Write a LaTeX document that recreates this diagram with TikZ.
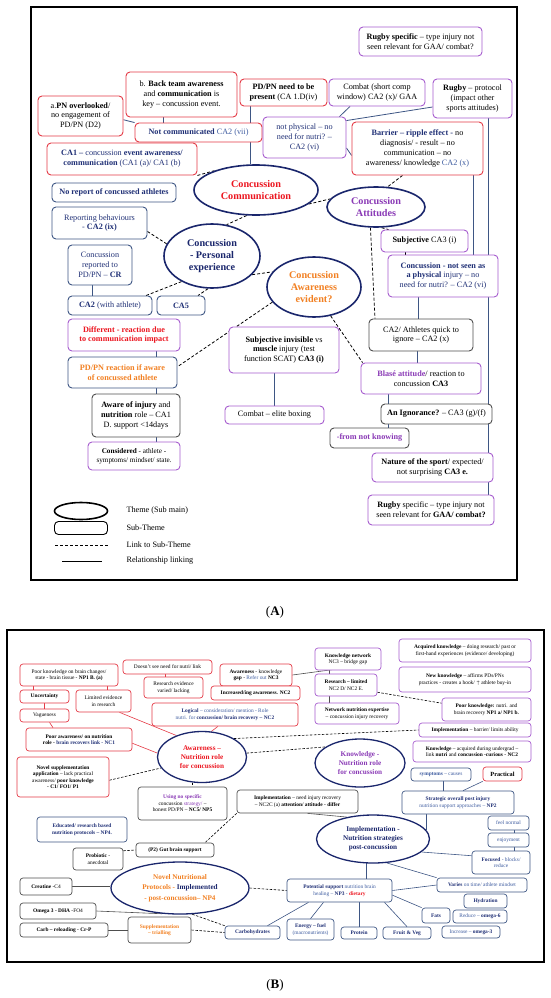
\documentclass[tikz,border=0pt]{standalone}
\usepackage{fontspec}
\setmainfont{Liberation Serif}
\usetikzlibrary{shapes.geometric,backgrounds}

\definecolor{redb}{RGB}{228,58,70}
\definecolor{redt}{RGB}{236,22,32}
\definecolor{purb}{RGB}{166,92,206}
\definecolor{purt}{RGB}{138,58,182}
\definecolor{navy}{RGB}{26,38,108}
\definecolor{bluet}{RGB}{32,48,118}
\definecolor{bluel}{RGB}{62,92,160}
\definecolor{blueb}{RGB}{62,86,132}
\definecolor{oranget}{RGB}{242,128,34}
\definecolor{grayb}{RGB}{78,78,78}

\newcommand{\fntA}{\fontsize{8.2}{9.7}\selectfont}
\newcommand{\fntB}{\fontsize{5.4}{6.5}\selectfont}
\newcommand{\fntC}{\fontsize{7.2}{8.6}\selectfont}
\newcommand{\fntD}{\fontsize{6.3}{7}\selectfont}
\newcommand{\fntE}{\fontsize{10.2}{12.2}\selectfont\bfseries}
\newcommand{\fntF}{\fontsize{7.2}{9}\selectfont\bfseries}

\begin{document}
\begin{tikzpicture}[x=1pt,y=1pt,yscale=-1,
    box/.style={draw, rounded corners=4pt, fill=white, align=center, inner sep=1pt, line width=0.9pt, font=\fntA},
    bx/.style 2 args={minimum width=#1, minimum height=#2},
    redbox/.style={box, draw=redb},
    purbox/.style={box, draw=purb},
    bluebox/.style={box, draw=blueb},
    greybox/.style={box, draw=grayb},
    sbox/.style={box, font=\fntB, line width=0.7pt, rounded corners=3pt},
    sred/.style={sbox, draw=redb},
    spur/.style={sbox, draw=purb},
    sblue/.style={sbox, draw=blueb},
    sgrey/.style={sbox, draw=grayb},
    theme/.style={ellipse, draw=navy, line width=1.6pt, fill=white, align=center, inner sep=0pt, font=\fntE},
    stheme/.style={theme, line width=1.3pt, font=\fntF},
    link/.style={dash pattern=on 3pt off 2pt, line width=0.8pt},
    slink/.style={dash pattern=on 2.5pt off 1.5pt, line width=0.6pt},
    rel/.style={draw=blueb, line width=0.8pt},
    srel/.style={line width=0.6pt},
  ]
  \useasboundingbox (0,0) rectangle (550,998);

  %Shape: Rectangle - frame (A)
  \draw[line width=1.2pt] (31,7) rectangle (517,580);

  % Text Node
  \node[purbox, bx={123}{29}] (rugbyspec) at (420.5,41.5) {\textbf{Rugby specific} – type injury not\\seen relevant for GAA/ combat?};
  \node[redbox, bx={111}{45}] (backteam) at (181.5,94.5) {b. \textbf{Back team awareness}\\and \textbf{communication} is\\key – concussion event.};
  \node[redbox, bx={85}{40}] (pnover) at (80.5,116) {a.\textbf{PN overlooked}/\\no engagement of\\PD/PN (D2)};
  \node[redbox, bx={127}{19}] (notcomm) at (198.5,132.5) {\textcolor{bluet}{\textbf{Not communicated}} \textcolor{bluel}{CA2 (vii)}};
  \node[redbox, bx={87}{27}] (pdpn) at (283.5,92.5) {\textbf{PD/PN need to be}\\\textbf{present} (CA 1.D(iv)};
  \node[purbox, bx={96}{27}] (combat) at (377,92.5) {Combat (short comp\\window) CA2 (x)/ GAA};
  \node[purbox, bx={79}{39}] (rugbyprot) at (472.5,98.5) {\textbf{Rugby} – protocol\\(impact other\\sports attitudes)};
  \node[purbox, bx={83}{41}, text=bluet] (notphys) at (304.5,137.5) {not physical – no\\need for nutri? –\\CA2 (vi)};
  \node[redbox, bx={131}{53}] (barrier) at (417.5,148.5) {\textcolor{bluet}{\textbf{Barrier – ripple effect -}} no\\diagnosis/ - result – no\\communication – no\\awareness/ knowledge \textcolor{bluel}{CA2 (x)}};
  \node[redbox, bx={150}{32}, text=bluet] (ca1) at (122,159) {\textbf{CA1 –} concussion \textbf{event awareness/}\\\textbf{communication} (CA1 (a)/ CA1 (b)};

  %Shape: Ellipse
  \node[theme, bx={124}{50}, text=redt] (commell) at (256,190) {Concussion\\Communication};
  \node[bluebox, bx={124}{19}, text=bluet] (noreport) at (114,192.5) {\textbf{No report of concussed athletes}};
  \node[bluebox, bx={95}{32}, text=bluet] (reportbeh) at (99.5,223) {Reporting behaviours\\- \textbf{CA2 (ix)}};
  \node[theme, bx={96}{64}, text=navy] (persell) at (212,256) {Concussion\\- Personal\\experience};
  \node[bluebox, bx={64}{40}, text=bluet] (reported) at (100,265) {Concussion\\reported to\\PD/PN – \textbf{CR}};
  \node[bluebox, bx={84}{19}, text=bluet] (ca2ath) at (110,305.5) {\textbf{CA2} (with athlete)};
  \node[bluebox, bx={48}{19}, text=bluet] (ca5) at (181,305.5) {\textbf{CA5}};
  \node[theme, bx={98}{40}, text=purt] (attell) at (376,207) {Concussion\\Attitudes};
  \node[purbox, bx={87}{22}] (subj) at (424.5,241) {\textbf{Subjective} CA3 (i)};
  \node[purbox, bx={110}{42}, text=bluet] (notseen) at (443,276) {\textbf{Concussion - not seen as}\\\textbf{a physical} injury – no\\need for nutri? – CA2 (vi)};
  \node[theme, bx={94}{60}, text=oranget] (awell) at (314,287) {Concussion\\Awareness\\evident?};
  \node[greybox, bx={104}{32}] (quick) at (421,335) {CA2/ Athletes quick to\\ignore – CA2 (x)};
  \node[purbox, bx={110}{46}] (subinv) at (284,350) {\textbf{Subjective invisible} vs\\\textbf{muscle} injury (test\\function SCAT) \textbf{CA3 (i)}};
  \node[purbox, bx={99}{18}] (boxing) at (274.5,415) {Combat – elite boxing};
  \node[purbox, bx={120}{31}] (blase) at (421,378.5) {\textcolor{purt}{\textbf{Blasé attitude}}/ reaction to\\concussion \textbf{CA3}};
  \node[greybox, bx={111}{20}] (ignor) at (436.5,414) {\textbf{An Ignorance?} – CA3 (g)/(f)};
  \node[greybox, bx={79}{20}, text=purt] (notknow) at (369.5,438) {\textbf{-from not knowing}};
  \node[purbox, bx={121}{29}] (nature) at (432.5,467.5) {\textbf{Nature of the sport}/ expected/\\not surprising \textbf{CA3 e.}};
  \node[purbox, bx={126}{30}] (rugbyspec2) at (431,510) {\textbf{Rugby} specific – type injury not\\seen relevant for \textbf{GAA/ combat?}};
  \node[purbox, bx={112}{32}, text=redt] (different) at (124,335) {\textbf{Different - reaction due}\\\textbf{to communication impact}};
  \node[bluebox, bx={109}{31}, text=oranget] (pdreact) at (122.5,372.5) {\textbf{PD/PN reaction if aware}\\\textbf{of concussed athlete}};
  \node[greybox, bx={88}{43}] (awareinj) at (136,415.5) {\textbf{Aware of injury} and\\\textbf{nutrition} role – CA1\\D. support <14days};
  \node[purbox, bx={92}{28}, font=\fntC] (considered) at (134,456) {\textbf{Considered} - athlete -\\symptoms/ mindset/ state.};

  % Legend
  \node[ellipse, draw, line width=1.6pt, bx={53}{17}] (legtheme) at (81,511) {};
  \node[box, draw=black, bx={53}{13}] (legsub) at (81,528) {};
  \coordinate (leglinka) at (55,545);
  \coordinate (leglinkb) at (108,545);
  \coordinate (legrela) at (62,561);
  \coordinate (legrelb) at (102,561);
  \draw[link, line width=0.7pt] (leglinka) -- (leglinkb);
  \draw[line width=0.9pt] (legrela) -- (legrelb);
  \node[anchor=west, font=\fntA] (legthemetxt) at (123,511) {Theme (Sub main)};
  \node[anchor=west, font=\fntA] (legsubtxt) at (123,528) {Sub-Theme};
  \node[anchor=west, font=\fntA] (leglinktxt) at (123,545) {Link to Sub-Theme};
  \node[anchor=west, font=\fntA] (legreltxt) at (123,561) {Relationship linking};

  \node[font=\fontsize{13}{15}\selectfont] (labA) at (275,612) {(\textbf{A})};

  %Shape: Rectangle - frame (B)
  \draw[line width=1.2pt] (7,630) rectangle (544,962);

  % Text Node
  \node[sred, bx={98}{22}] (poorbrain) at (69,675) {Poor knowledge on brain changes/\\state - brain tissue - \textbf{NP1 B. (a)}};
  \node[sred, bx={89}{14}] (noneed) at (167.5,667) {Doesn't see need for nutri/ link};
  \node[sred, bx={59}{21}] (resevid) at (173.5,687.5) {Research evidence\\varied/ lacking};
  \node[sred, bx={72}{22}] (awgap) at (256,675) {\textbf{Awareness} - knowledge\\\textbf{gap} - \textcolor{bluel}{Refer out} \textbf{NC3}};
  \node[sred, bx={89}{14}] (incaware) at (255.5,693) {\textbf{Increased/ing awareness. NC2}};
  \node[sred, bx={49}{13}] (uncert) at (44.5,696.5) {\textbf{Uncertainty}};
  \node[sred, bx={55}{22}] (limevid) at (103.5,701) {Limited evidence\\in research};
  \node[sred, bx={146}{23}, text=bluel] (logical) at (225,714.5) {\textcolor{bluet}{\textbf{Logical}} – consideration/ mention - Role\\nutri. for \textcolor{bluet}{\textbf{concussion/ brain recovery – NC2}}};
  \node[sred, bx={49}{13}] (vague) at (44.5,715.5) {Vagueness};
  \node[sred, bx={106}{23}] (pooraw) at (79,739.5) {\textbf{Poor awareness/ on nutrition}\\\textbf{role - \textcolor{bluet}{brain recovers link - NC1}}};
  \node[stheme, bx={89}{51}, text=redt] (awell2) at (202,757) {Awareness –\\Nutrition role\\for concussion};
  \node[sred, bx={92}{40}] (novelsupp) at (63,777) {\textbf{Novel supplementation}\\\textbf{application} – lack practical\\awareness/ \textbf{poor knowledge}\\\textbf{- C1/ FO1/ P1}};
  \node[sgrey, bx={89}{33}] (nostrat) at (182.5,803.5) {\textcolor{purt}{\textbf{Using no specific}}\\concussion \textcolor{purt}{strategy/} –\\honest PD/PN – \textbf{NC5/ NP5}};
  \node[sblue, bx={90}{25}, text=bluet] (educated) at (82,829.5) {\textbf{Educated/ research based}\\\textbf{nutrition protocols – NP4.}};
  \node[sgrey, bx={121}{23}] (implneed) at (297.5,801.5) {\textbf{Implementation} – need injury recovery\\– NC2C (a) \textbf{attention/ attitude - differ}};
  \node[sgrey, bx={78}{14}] (gutbrain) at (175,850) {\textbf{(P2) Gut brain support}};
  \node[sgrey, bx={50}{22}] (probiotic) at (98,859) {\textbf{Probiotic} -\\anecdotal};
  \node[spur, bx={66}{22}] (knownet) at (348,659) {\textbf{Knowledge network}\\NC3 – bridge gap};
  \node[spur, bx={62}{22}] (reslim) at (346,685) {\textbf{Research – limited}\\NC2 D/ NC2 E.};
  \node[spur, bx={84}{21}] (netexp) at (357,713.5) {\textbf{Network nutrition expertise}\\– concussion injury recovery};
  \node[spur, bx={132}{23}] (acquired) at (465,650.5) {\textbf{Acquired knowledge} – doing research/ past or\\first-hand experiences (evidence/ developing)};
  \node[spur, bx={132}{25}] (newknow) at (465,679.5) {\textbf{New knowledge} – affirms PDs/PNs\\practices - creates a hook/ $\uparrow$ athlete buy-in};
  \node[spur, bx={89}{23}] (poorknow) at (486.5,709.5) {\textbf{Poor knowledge:} nutri. and\\brain recovery \textbf{NP1 a/ NP1 b.}};
  \node[spur, bx={112}{14}] (implbar) at (475,730) {\textbf{Implementation} – barrier/ limits ability};
  \node[spur, bx={118}{21}] (knowugrad) at (472,751.5) {\textbf{Knowledge} – acquired during undergrad –\\link \textbf{nutri} and \textbf{concussion -curious - NC2}};
  \node[stheme, bx={90}{48}, text=purt] (knowell) at (360,763) {Knowledge -\\Nutrition role\\for concussion};
  \node[sblue, bx={60}{13}, text=bluel] (symptoms) at (441,774.5) {\textbf{symptoms} – causes};
  \node[sred, bx={39}{14}, font=\fntD] (practical) at (502.5,774) {\textbf{Practical}};
  \node[sblue, bx={112}{23}, text=bluel] (strategic) at (458,802.5) {\textcolor{bluet}{\textbf{Strategic overall post injury}}\\nutrition support approaches – \textcolor{bluet}{\textbf{NP2}}};
  \node[stheme, bx={113}{48}, text=navy] (implell) at (373,839) {Implementation -\\Nutrition strategies\\post-concussion};
  \node[sblue, bx={41}{14}, text=bluel] (feelnorm) at (508.5,823) {feel normal};
  \node[sblue, bx={41}{14}, text=bluel] (enjoy) at (508.5,840) {enjoyment};
  \node[sblue, bx={58}{23}, text=bluel] (focused) at (501,862.5) {\textcolor{bluet}{\textbf{Focused}} - blocks/\\reduce};
  \node[sblue, bx={105}{23}, text=bluel] (potential) at (339.5,890.5) {\textcolor{bluet}{\textbf{Potential support}} nutrition brain\\healing – \textcolor{bluet}{\textbf{NP3}} - \textcolor{redt}{\textbf{dietary}}};
  \node[sblue, bx={90}{14}, text=bluel] (varies) at (482,885) {\textcolor{bluet}{\textbf{Varies}} on time/ athlete mindset};
  \node[sblue, bx={43}{14}, text=bluet] (hydration) at (485.5,901) {\textbf{Hydration}};
  \node[sblue, bx={28}{15}, text=bluet] (fats) at (436,915.5) {\textbf{Fats}};
  \node[sblue, bx={54}{13}, text=bluel] (reduce) at (480,916.5) {Reduce – \textcolor{bluet}{\textbf{omega-6}}};
  \node[sblue, bx={58}{12}, text=bluel] (increase) at (471,932) {Increase – \textcolor{bluet}{\textbf{omega-3}}};
  \node[sblue, bx={36}{12}, text=bluet] (protein) at (359,933) {\textbf{Protein}};
  \node[sblue, bx={48}{12}, text=bluet] (fruit) at (407,933) {\textbf{Fruit \& Veg}};
  \node[sblue, bx={47}{21}, text=bluet] (energy) at (310.5,929.5) {\textbf{Energy – fuel}\\\textcolor{bluel}{(macronutrients)}};
  \node[sblue, bx={55}{13}, text=bluet] (carbo) at (252.5,932.5) {\textbf{Carbohydrates}};
  \node[stheme, bx={138}{52}, font=\fontsize{7.2}{10.5}\selectfont\bfseries] (novell) at (180,888) {\textcolor{oranget}{Novel Nutritional}\\\textcolor{oranget}{Protocols -} \textcolor{navy}{Implemented}\\\textcolor{oranget}{- post-concussion– NP4}};
  \node[sgrey, bx={52}{17}] (creatine) at (46,886.5) {\textbf{Creatine} -C4};
  \node[sgrey, bx={76}{16}] (omega) at (58,911) {\textbf{Omega 3 - DHA} -FO4};
  \node[sgrey, bx={88}{14}] (carbrel) at (64,930) {\textbf{Carb – reloading - Cr-P}};
  \node[sgrey, bx={63}{26}, text=oranget] (suppl) at (159.5,930) {\textbf{Supplementation}\\\textbf{– trialling}};

  \node[font=\fontsize{13}{15}\selectfont] (labB) at (275,985) {(\textbf{B})};

  \begin{pgfonlayer}{background}
    %Straight Lines (A)
    \draw[rel] ([xshift=-18.5]backteam.south) -- ([xshift=-18.5]backteam.south |- notcomm.north);
    \draw[rel] (pnover.-5) -- (notcomm.north west);
    \draw[rel] ([xshift=-33.5]pdpn.south) -- ([xshift=-33.5]pdpn.south |- commell.north);
    \draw[rel] ([xshift=-27]combat.south) -- ([xshift=35]notphys.north);
    \draw[rel] (notphys.22) -- (rugbyprot.-168);
    \draw[rel] (notphys.-14) -- (barrier.-174);
    \draw[rel] ([xshift=55.5]barrier.south) -- ([xshift=55.5]barrier.south |- notseen.north);
    \draw[rel] ([xshift=15.5]rugbyprot.south) -- ([xshift=15.5]rugbyprot.south |- rugbyspec2.north);
    \draw[rel] ([xshift=-25]notseen.south) -- ([xshift=-25]notseen.south |- quick.north);
    \draw[rel] ([xshift=-4]quick.south) -- ([xshift=-4]quick.south |- blase.north);
    \draw[rel] ([xshift=-33]blase.south) -- ([xshift=-33]blase.south |- notknow.north);
    \draw[rel] (boxing.north |- subinv.south) -- (boxing.north);
    \draw[rel] ([xshift=-8]reported.south) -- ([xshift=-8]reported.south |- ca2ath.north);
    \draw[rel] ([xshift=32]different.south) -- ([xshift=32]different.south |- pdreact.north);
    \draw[rel] ([xshift=33.5]pdreact.south) -- ([xshift=33.5]pdreact.south |- awareinj.north);
    \draw[rel] ([xshift=20]awareinj.south) -- ([xshift=20]awareinj.south |- considered.north);
    %Dashed links (A)
    \draw[link] (ca1.south east) -- (commell.155);
    \draw[link] (commell.-110) -- (persell.65);
    \draw[link] (reportbeh.-10) -- (persell.165);
    \draw[link] (persell.-140) -- ([xshift=36]ca2ath.north);
    \draw[link] (persell.-97) -- ([xshift=17]ca5.north);
    \draw[link] (persell.-25) -- (awell.160);
    \draw[link] (commell.-15) -- (attell.170);
    \draw[link] ([xshift=-15]barrier.south) -- (attell.60);
    \draw[link] (attell.-75) -- ([xshift=-36]subj.north);
    \draw[link] ([xshift=-19]subj.south) -- ([xshift=-19]subj.south |- notseen.north);
    \draw[link] (attell.-105) -- ([xshift=-46]quick.north);
    \draw[link] (awell.-60) -- ([xshift=2]blase.north west);
    \draw[link] (awell.200) -- (pdreact.6);

    %Straight Lines (B)
    \draw[srel, redb] ([xshift=-36]poorbrain.south) -- ([xshift=-36]poorbrain.south |- uncert.north);
    \draw[srel, redb] ([xshift=38]poorbrain.south) -- ([xshift=38]poorbrain.south |- limevid.north);
    \draw[srel, redb] (uncert.south) -- (vague.north);
    \draw[srel, redb] ([xshift=5]vague.south) -- ([xshift=-26]pooraw.north);
    \draw[srel, redb] ([xshift=-2]noneed.south) -- ([xshift=-2]noneed.south |- resevid.north);
    \draw[srel, redb] ([xshift=16]limevid.south) -- (awell2.140);
    \draw[srel, redb] (pooraw.-4) -- (awell2.175);
    \draw[srel, redb] ([xshift=-7]logical.south) -- (awell2.70);
    \draw[srel, grayb] (awgap.east) -- (knownet.-7);
    \draw[srel, grayb] ([xshift=-19]knownet.south) -- ([xshift=-19]knownet.south |- reslim.north);
    \draw[srel, grayb] ([xshift=-17]reslim.south) -- ([xshift=-17]reslim.south |- netexp.north);
    \draw[srel, grayb] ([xshift=10]implneed.south) -- (implell.140);
    \draw[srel, blueb] ([xshift=2]symptoms.south) -- ([xshift=2]symptoms.south |- strategic.north);
    \draw[srel, blueb] (practical.south west) -- ([xshift=5]strategic.north);
    \draw[srel, blueb] (implell.10 |- strategic.south) -- (implell.10);
    \draw[srel, blueb] (implell.-15) -- (focused.167);
    \draw[srel, blueb] ([xshift=5.5]feelnorm.south) -- ([xshift=5.5]feelnorm.south |- enjoy.north);
    \draw[srel, blueb] ([xshift=5.5]enjoy.south) -- ([xshift=5.5]enjoy.south |- focused.north);
    \draw[srel, blueb] (implell.-105) -- (implell.-105 |- potential.north);
    \draw[srel, blueb] (implell.-60) -- (varies.north west);
    \draw[srel, blueb] (potential.east) -- (varies.west);
    \draw[srel, blueb] (potential.-5) -- (fats.north west);
    \draw[srel, blueb] ([xshift=-31]potential.south) -- ([xshift=15]carbo.north);
    \draw[srel, blueb] ([xshift=-16]potential.south) -- (energy.north);
    \draw[srel, blueb] (protein.north |- potential.south) -- (protein.north);
    \draw[srel, blueb] ([xshift=45]potential.south) -- (fruit.north);
    \draw[srel, grayb] (creatine.east) -- (creatine.east -| novell.west);
    \draw[srel, grayb] (omega.east) -- (novell.-125);
    \draw[srel, grayb] (carbrel.east) -- (suppl.west);
    %Dashed links (B)
    \draw[slink] (novelsupp.-4) -- (awell2.195);
    \draw[slink] (awell2.-110) -- (awell2.-110 |- nostrat.north);
    \draw[slink] (awell2.30) -- (implbar.west);
    \draw[slink] (awell2.5) -- (knowell.155);
    \draw[slink] (reslim.-13) -- (poorknow.172);
    \draw[slink] (implneed.south west) -- ([xshift=30]gutbrain.north);
    \draw[slink] (probiotic.18) -- (gutbrain.west);
    \draw[slink] (novell.east) -- (potential.west);
    \draw[slink] (novell.-65) -- (carbo.north west);
    \draw[slink] (suppl.east) -- (carbo.west);
  \end{pgfonlayer}
\end{tikzpicture}
\end{document}
